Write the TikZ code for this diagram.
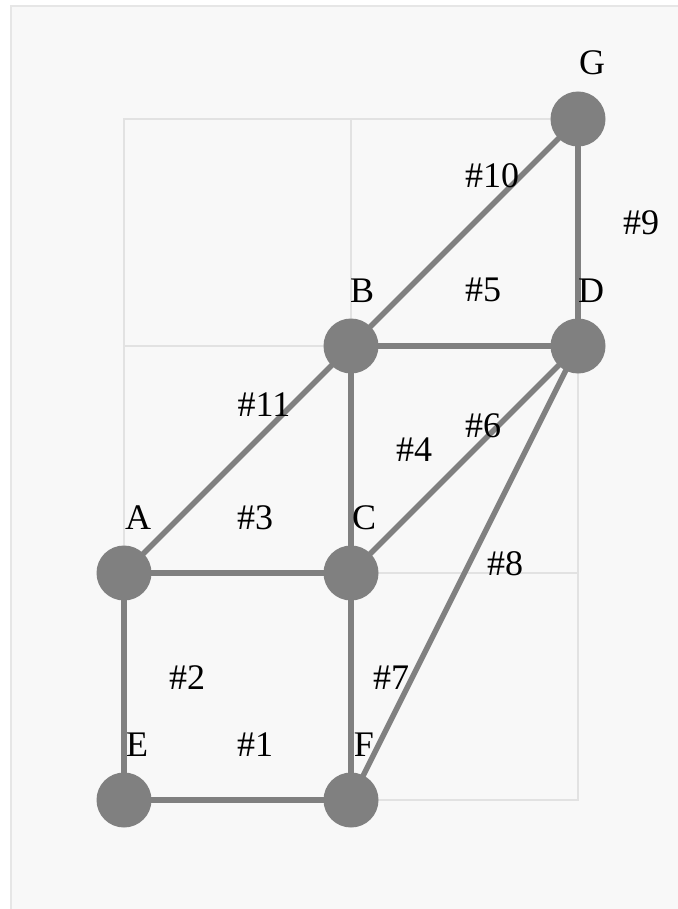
\documentclass[tikz,border=0pt]{standalone}
\usepackage{fontspec}
\setmainfont{Liberation Serif}
\begin{document}
\begin{tikzpicture}[x=1pt,y=-1pt,
  vertex/.style={circle,fill=edgegray,draw=none,minimum size=55pt,inner sep=0pt},
  link/.style={draw=edgegray,line width=5.5pt},
  gridline/.style={draw=gridgray,line width=1.5pt},
  tag/.style={anchor=base,inner sep=0pt,font=\fontsize{36}{42}\selectfont}]
\definecolor{edgegray}{HTML}{808080}
\definecolor{gridgray}{HTML}{E2E2E2}
\definecolor{panel}{HTML}{F8F8F8}
\definecolor{panelrule}{HTML}{E6E6E6}
\useasboundingbox (0,0) rectangle (677,909);
\fill[white] (0,0) rectangle (677,909);
\filldraw[fill=panel,draw=panelrule,line width=2pt] (11,6) rectangle (690,920);

% background grid
\draw[gridline] (124,119) rectangle (578,800);
\draw[gridline] (351,119) -- (351,800);
\draw[gridline] (124,346) -- (578,346);
\draw[gridline] (124,573) -- (578,573);

% vertices
\coordinate (pG) at (578,119);
\coordinate (pB) at (351,346);
\coordinate (pD) at (578,346);
\coordinate (pA) at (124,573);
\coordinate (pC) at (351,573);
\coordinate (pE) at (124,800);
\coordinate (pF) at (351,800);

% edges
\draw[link] (pE) -- (pF);
\draw[link] (pA) -- (pE);
\draw[link] (pA) -- (pC);
\draw[link] (pB) -- (pC);
\draw[link] (pB) -- (pD);
\draw[link] (pC) -- (pD);
\draw[link] (pC) -- (pF);
\draw[link] (pD) -- (pF);
\draw[link] (pD) -- (pG);
\draw[link] (pB) -- (pG);
\draw[link] (pA) -- (pB);

\node[vertex] (G) at (pG) {};
\node[vertex] (B) at (pB) {};
\node[vertex] (D) at (pD) {};
\node[vertex] (A) at (pA) {};
\node[vertex] (C) at (pC) {};
\node[vertex] (E) at (pE) {};
\node[vertex] (F) at (pF) {};

% vertex names
\node[tag] (lG) at (592,75) {G};
\node[tag] (lB) at (362,302) {B};
\node[tag] (lD) at (591,302) {D};
\node[tag] (lA) at (138,529) {A};
\node[tag] (lC) at (364,529) {C};
\node[tag] (lE) at (137,756) {E};
\node[tag] (lF) at (364,756) {F};

% edge numbers
\node[tag] (n1) at (255,756) {\#1};
\node[tag] (n2) at (187,689) {\#2};
\node[tag] (n3) at (255,529) {\#3};
\node[tag] (n4) at (414,461) {\#4};
\node[tag] (n5) at (483,301) {\#5};
\node[tag] (n6) at (483,437) {\#6};
\node[tag] (n7) at (391,689) {\#7};
\node[tag] (n8) at (505,575) {\#8};
\node[tag] (n9) at (641,234) {\#9};
\node[tag] (n10) at (492,188) {\#10};
\node[tag] (n11) at (264,416) {\#11};
\end{tikzpicture}
\end{document}
